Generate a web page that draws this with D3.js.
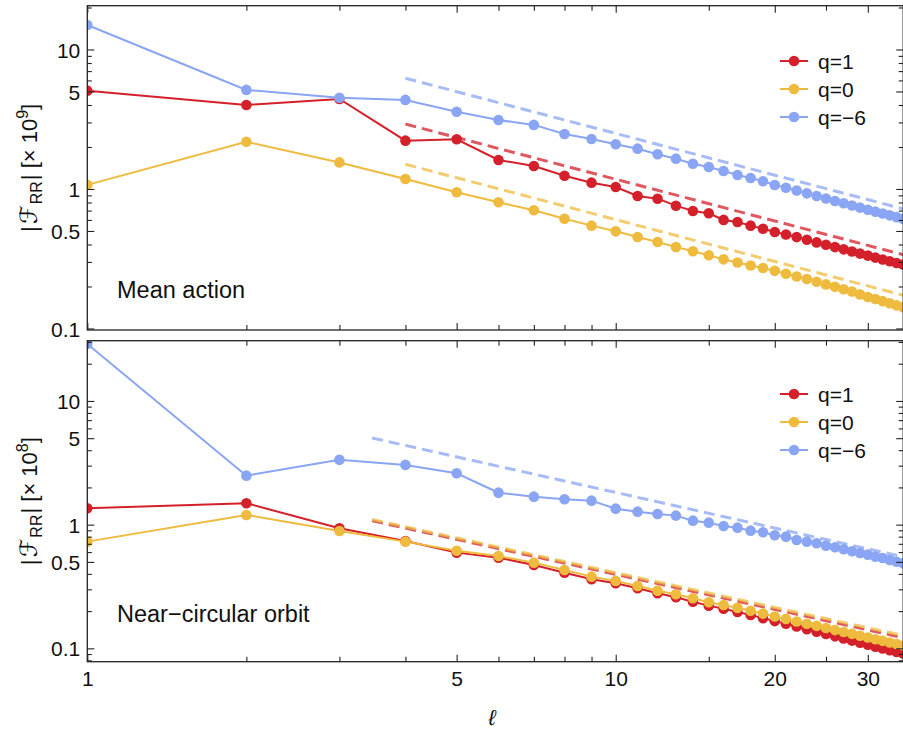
<!DOCTYPE html>
<html><head><meta charset="utf-8">
<script src="https://cdn.jsdelivr.net/npm/d3@7/dist/d3.min.js"></script>
<style>
html,body{margin:0;padding:0;background:#fff;}
svg{display:block;font-family:"Liberation Sans",Arial,Helvetica,sans-serif;}
</style></head><body>
<svg id="chart" width="903" height="731"></svg>
<script>
// ---------- data ----------
const ell = [1,2,3,4,5,6,7,8,9,10,11,12,13,14,15,16,17,18,19,20,21,22,23,24,25,26,27,28,29,30,31,32,33,34,35];
const seriesNames = ["q=1","q=0","q=\u22126"];

// Mean action  [x 10^9]
const meanQ1  = [5.07,4.0,4.42,2.22,2.27,1.614,1.462,1.245,1.11,1.033,0.891,0.852,0.759,0.696,0.670,0.600,0.580,0.546,0.519,0.492,0.472,0.452,0.432,0.414,0.398,0.383,0.369,0.356,0.344,0.333,0.322,0.312,0.303,0.295,0.287];
const meanQ0  = [1.07,2.18,1.55,1.18,0.947,0.803,0.704,0.612,0.546,0.497,0.453,0.417,0.384,0.3575,0.3346,0.313,0.297,0.283,0.271,0.259,0.247,0.236,0.226,0.216,0.207,0.199,0.191,0.184,0.1755,0.168,0.1625,0.157,0.1515,0.1465,0.142];
const meanQm6 = [14.98,5.13,4.51,4.35,3.58,3.12,2.88,2.48,2.28,2.09,1.945,1.773,1.649,1.518,1.438,1.346,1.26,1.199,1.136,1.068,1.02,0.975,0.93,0.89,0.855,0.82,0.79,0.762,0.735,0.71,0.688,0.667,0.647,0.628,0.61];
// asymptotic dashed guides: [ell, value] endpoints
const meanGuideQ1  = [[4,2.92],[35,0.338]];
const meanGuideQ0  = [[4,1.503],[35,0.173]];
const meanGuideQm6 = [[4,6.22],[35,0.72]];

// Near-circular orbit  [x 10^8]
const circQ1  = [1.357,1.49,0.935,0.738,0.594,0.541,0.472,0.409,0.362,0.336,0.306,0.279,0.259,0.2385,0.2215,0.209,0.197,0.186,0.1755,0.166,0.158,0.150,0.143,0.1365,0.1305,0.125,0.12,0.1155,0.111,0.107,0.1032,0.0998,0.0966,0.0936,0.0908];
const circQ0  = [0.729,1.198,0.889,0.729,0.616,0.558,0.493,0.43,0.38,0.351,0.3195,0.2927,0.2737,0.254,0.236,0.224,0.2125,0.2015,0.191,0.181,0.173,0.165,0.158,0.152,0.146,0.1405,0.1355,0.131,0.1265,0.1225,0.1185,0.115,0.1115,0.1085,0.1055];
const circQm6 = [28.9,2.49,3.34,3.04,2.60,1.814,1.684,1.604,1.563,1.347,1.274,1.22,1.183,1.077,1.038,0.976,0.946,0.894,0.868,0.821,0.80,0.752,0.729,0.707,0.676,0.657,0.633,0.61,0.59,0.572,0.551,0.538,0.518,0.502,0.488];
const circGuideQ1  = [[3.46,1.075],[35,0.122]];
const circGuideQ0  = [[3.46,1.10],[35,0.127]];
const circGuideQm6 = [[3.46,5.02],[35,0.55]];

const xTickLabels = [1,5,10,20,30];
const xTickMinor  = [2,3,4,6,7,8,9,15,25];
const yTickLabels = [0.1,0.5,1,5,10];

// ---------- layout ----------
const colors = ["#d4202a","#eebb3f","#89a5f3"];
const svg = d3.select("#chart");
const x = d3.scaleLog().domain([1,35]).range([87.3,903.2]);

const panels = [
  {name:"Mean action", exp:"9", yDom:[0.0975,20.6], yRng:[330,5.7],
   series:[meanQ1,meanQ0,meanQm6], guides:[meanGuideQ1,meanGuideQ0,meanGuideQm6], legendY:61, labelY:298},
  {name:"Near\u2212circular orbit", exp:"8", yDom:[0.078,30.7], yRng:[661.7,340.7],
   series:[circQ1,circQ0,circQm6], guides:[circGuideQ1,circGuideQ0,circGuideQm6], legendY:394, labelY:622}
];

function minorY(dom){
  const out=[];
  for(let e=-3;e<=3;e++){for(let k=1;k<=9;k++){const v=k*Math.pow(10,e);
    if(v>=dom[0]&&v<=dom[1]&&!yTickLabels.some(t=>Math.abs(t-v)<1e-9)) out.push(v);}}
  return out;
}

panels.forEach((p,pi)=>{
  const y = d3.scaleLog().domain(p.yDom).range(p.yRng);
  const x0=x.range()[0], x1=x.range()[1], yb=p.yRng[0], yt=p.yRng[1];
  const g = svg.append("g");
  const clipId="clip"+pi;
  svg.append("clipPath").attr("id",clipId).append("rect")
    .attr("x",x0).attr("y",yt).attr("width",x1-x0).attr("height",yb-yt);
  const plot = g.append("g").attr("clip-path",`url(#${clipId})`);

  // dashed guides
  p.guides.forEach((gd,i)=>{
    plot.append("path").datum(gd)
      .attr("d",d3.line().x(d=>x(d[0])).y(d=>y(d[1])))
      .attr("fill","none").attr("stroke",colors[i]).attr("stroke-opacity",0.75)
      .attr("stroke-width",3).attr("stroke-dasharray","11,6");
  });
  // series
  p.series.forEach((s,i)=>{
    const pts = s.map((v,j)=>[ell[j],v]);
    plot.append("path").datum(pts)
      .attr("d",d3.line().x(d=>x(d[0])).y(d=>y(d[1])))
      .attr("fill","none").attr("stroke",colors[i]).attr("stroke-width",2);
    plot.selectAll(null).data(pts).enter().append("circle")
      .attr("cx",d=>x(d[0])).attr("cy",d=>y(d[1])).attr("r",5.3).attr("fill",colors[i]);
  });

  // axes (ticks inside)
  const axStyle = sel=>{sel.select(".domain").remove(); sel.selectAll(".tick line").attr("stroke","#222").attr("stroke-width",1.1);
    sel.selectAll("text").attr("fill","#111").style("font-size","21px").style("font-family",'"Liberation Sans",Arial,sans-serif');};
  // left
  g.append("g").attr("transform",`translate(${x0},0)`)
    .call(d3.axisLeft(y).tickValues(yTickLabels).tickSizeInner(-7).tickSizeOuter(0).tickPadding(7).tickFormat(d=>String(d)))
    .call(axStyle).selectAll("text").attr("dy","0.36em");
  g.append("g").attr("transform",`translate(${x0},0)`)
    .call(d3.axisLeft(y).tickValues(minorY(p.yDom)).tickSizeInner(-4.5).tickSizeOuter(0).tickFormat(""))
    .call(axStyle);
  // right
  g.append("g").attr("transform",`translate(${x1},0)`)
    .call(d3.axisRight(y).tickValues(yTickLabels).tickSizeInner(-7).tickSizeOuter(0).tickFormat(""))
    .call(axStyle);
  g.append("g").attr("transform",`translate(${x1},0)`)
    .call(d3.axisRight(y).tickValues(minorY(p.yDom)).tickSizeInner(-4.5).tickSizeOuter(0).tickFormat(""))
    .call(axStyle);
  // bottom
  const bot = g.append("g").attr("transform",`translate(0,${yb})`)
    .call(d3.axisBottom(x).tickValues(xTickLabels).tickSizeInner(-7).tickSizeOuter(0).tickPadding(9).tickFormat(pi===1?(d=>String(d)):""))
    .call(axStyle);
  bot.selectAll("text").attr("dy","0.71em");
  g.append("g").attr("transform",`translate(0,${yb})`)
    .call(d3.axisBottom(x).tickValues(xTickMinor).tickSizeInner(-5).tickSizeOuter(0).tickFormat(""))
    .call(axStyle);
  // top
  g.append("g").attr("transform",`translate(0,${yt})`)
    .call(d3.axisTop(x).tickValues(xTickLabels).tickSizeInner(-7).tickSizeOuter(0).tickFormat(""))
    .call(axStyle);
  g.append("g").attr("transform",`translate(0,${yt})`)
    .call(d3.axisTop(x).tickValues(xTickMinor).tickSizeInner(-5).tickSizeOuter(0).tickFormat(""))
    .call(axStyle);

  // frame
  g.append("rect").attr("x",x0).attr("y",yt).attr("width",x1-x0).attr("height",yb-yt)
    .attr("fill","none").attr("stroke","#222").attr("stroke-width",1.3);

  // panel label
  g.append("text").attr("x",117).attr("y",p.labelY).attr("fill","#111")
    .style("font-size","23.5px").text(p.name);

  // legend
  seriesNames.forEach((nm,i)=>{
    const ly = p.legendY + i*28;
    g.append("line").attr("x1",780).attr("x2",808).attr("y1",ly).attr("y2",ly)
      .attr("stroke",colors[i]).attr("stroke-width",2);
    g.append("circle").attr("cx",794).attr("cy",ly).attr("r",5.3).attr("fill",colors[i]);
    g.append("text").attr("x",818).attr("y",ly).attr("dy","0.36em").attr("fill","#111")
      .style("font-size","21px").text(nm);
  });

  // y-axis title
  const cy = (yb+yt)/2;
  const t = g.append("text").attr("transform",`translate(37,${cy}) rotate(-90)`)
    .attr("text-anchor","middle").attr("fill","#111").style("font-size","22px");
  t.append("tspan").text("|");
  t.append("tspan").attr("dx","2").style("font-family","'DejaVu Serif','DejaVu Sans',serif").style("font-style","italic").style("font-size","24px").text("\u2131");
  t.append("tspan").attr("dy","5").attr("dx","1").style("font-size","16px").text("RR");
  t.append("tspan").attr("dy","-5").attr("dx","1").text("| [\u00d7 10");
  t.append("tspan").attr("dy","-9").style("font-size","16px").text(p.exp);
  t.append("tspan").attr("dy","9").text("]");
});

// x-axis title
svg.append("text").attr("x",492).attr("y",725).attr("text-anchor","middle")
  .attr("fill","#111").style("font-size","22px").style("font-style","italic").text("\u2113");
</script>
</body></html>
